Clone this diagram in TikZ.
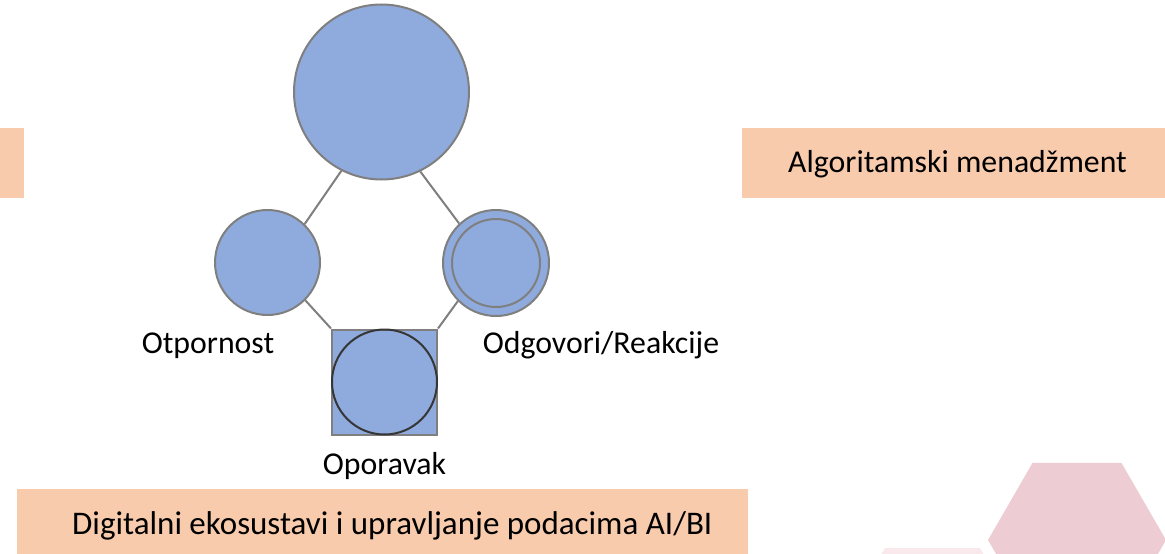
\documentclass[tikz,border=0pt]{standalone}
\usepackage{fontspec}
\setmainfont{Carlito}
\definecolor{bubbleblue}{HTML}{8FAADC}
\definecolor{edgegray}{HTML}{7F7F7F}
\definecolor{ringdark}{HTML}{363636}
\definecolor{bandorange}{HTML}{F8CBAD}
\definecolor{hexpink}{HTML}{EDCDD3}
\definecolor{hexfaint}{HTML}{F9E9EC}
\begin{document}
\begin{tikzpicture}[x=1pt,y=-1pt,
  bubble/.style={circle,draw=edgegray,fill=bubbleblue,line width=2pt,inner sep=0pt},
  ring/.style={circle,draw=edgegray,line width=2pt,inner sep=0pt},
  band/.style={fill=bandorange},
  caption/.style={font=\fontsize{31.8}{38}\selectfont,anchor=base,inner sep=0pt},
  bigcaption/.style={font=\fontsize{33}{40}\selectfont,anchor=base,inner sep=0pt},
  link/.style={draw=edgegray,line width=2pt}]
\useasboundingbox (0,0) rectangle (1165,554);

% decorative hexagons, lower right
\fill[hexfaint] (932.5,630.3) +(0:95) -- +(60:95) -- +(120:95) -- +(180:95) -- +(240:95) -- +(300:95) -- cycle;
\fill[hexpink] (1077,540) +(0:89) -- +(60:89) -- +(120:89) -- +(180:89) -- +(240:89) -- +(300:89) -- cycle;

% orange bands
\fill[band] (0,128) rectangle (24,198);
\fill[band] (742,128) rectangle (1170,198);
\fill[band] (17,489) rectangle (748,560);
\node[caption] (alg) at (957.5,172) {Algoritamski menadžment};
\node[bigcaption,anchor=base west] (dig) at (72,534) {Digitalni ekosustavi i upravljanje podacima AI/BI};

% shapes
\node[bubble,minimum size=175pt] (top) at (381.5,92) {};
\node[bubble,minimum size=105pt] (left) at (267.5,262.5) {};
\node[bubble,minimum size=106pt] (right) at (496,263) {};
\node[ring,minimum size=88pt] (rightin) at (496,263) {};
\node[rectangle,draw=edgegray,fill=bubbleblue,line width=2pt,inner sep=0pt,minimum size=105pt] (sq) at (384.5,382) {};
\node[circle,draw=ringdark,line width=2pt,inner sep=0pt,minimum size=105pt] (sqc) at (384.5,382) {};

% connectors
\draw[link] (top.243.4) -- (left.46.5);
\draw[link] (top.296.6) -- (right.133.5);
\draw[link] (left.-45) -- (sq.north west);
\draw[link] (right.225) -- (sq.north east);

% labels
\node[caption] (lblleft) at (208,353) {Otpornost};
\node[caption] (lblright) at (601,353) {Odgovori/Reakcije};
\node[caption] (lblbottom) at (384.5,474) {Oporavak};
\end{tikzpicture}
\end{document}
